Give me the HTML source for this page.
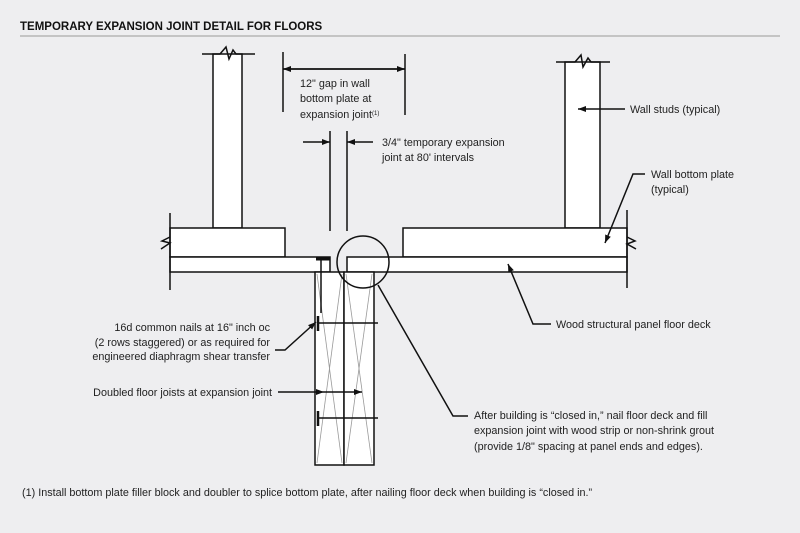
<!DOCTYPE html>
<html><head><meta charset="utf-8"><style>
html,body{margin:0;padding:0;background:#eeeef0;}
svg{display:block;}
text{font-family:"Liberation Sans",sans-serif;font-size:10.8px;fill:#222;}
</style></head><body>
<svg width="800" height="533" viewBox="0 0 800 533" xmlns="http://www.w3.org/2000/svg">
<defs><marker id="a" markerWidth="8" markerHeight="6" refX="8" refY="3" orient="auto" markerUnits="userSpaceOnUse"><path d="M0,0 L8,3 L0,6 z" fill="#111"/></marker></defs>
<text x="20" y="30" style="font-weight:bold;font-size:11.5px;fill:#111">TEMPORARY EXPANSION JOINT DETAIL FOR FLOORS</text>
<line x1="20" y1="36" x2="780" y2="36" stroke="#999" stroke-width="1"/>
<g stroke="#111" stroke-width="1.5" fill="#fff">
<rect x="213" y="54" width="29" height="174"/>
<path d="M202,54 H220 L226,47 L229,59 L233,50 L236,54 H255" fill="none"/>
<rect x="170" y="228" width="115" height="29"/>
<rect x="170" y="257" width="160" height="15"/>
<line x1="170" y1="213" x2="170" y2="290"/>
<path d="M170,237 L162,241 L170,243 L161,249" fill="none"/>
<rect x="565" y="62" width="35" height="166"/>
<path d="M556,62 H575 L581,55 L583,67 L588,58 L591,62 H610" fill="none"/>
<rect x="403" y="228" width="224" height="29"/>
<rect x="347" y="257" width="280" height="15"/>
<line x1="627" y1="210" x2="627" y2="288"/>
<path d="M627,237 L635,241 L627,244 L636,249" fill="none"/>
<rect x="315" y="272" width="29" height="193"/>
<rect x="344" y="272" width="30" height="193"/>
</g>
<g stroke="#999" stroke-width="0.8">
<line x1="317" y1="274" x2="342" y2="463"/><line x1="342" y1="274" x2="317" y2="463"/>
<line x1="346" y1="274" x2="372" y2="463"/><line x1="372" y1="274" x2="346" y2="463"/>
</g>
<g stroke="#111" stroke-width="1.5" fill="none">
<circle cx="363" cy="262" r="26"/>
<line x1="316" y1="259" x2="330" y2="259" stroke-width="3"/>
<line x1="321" y1="260" x2="321" y2="313"/>
<line x1="318" y1="323" x2="378" y2="323"/><line x1="318" y1="316" x2="318" y2="331" stroke-width="2.5"/>
<line x1="318" y1="418" x2="378" y2="418"/><line x1="318" y1="411" x2="318" y2="426" stroke-width="2.5"/>
<line x1="283" y1="52" x2="283" y2="112"/><line x1="405" y1="54" x2="405" y2="115"/>
<line x1="283" y1="69" x2="405" y2="69" marker-end="url(#a)"/>
<line x1="405" y1="69" x2="283" y2="69" marker-end="url(#a)"/>
<line x1="330" y1="131" x2="330" y2="231"/><line x1="347" y1="131" x2="347" y2="231"/>
<line x1="303" y1="142" x2="330" y2="142" marker-end="url(#a)"/>
<line x1="373" y1="142" x2="347" y2="142" marker-end="url(#a)"/>
<line x1="625" y1="109" x2="578" y2="109" marker-end="url(#a)"/>
<polyline points="645,174 633,174 605,243" marker-end="url(#a)"/>
<polyline points="551,324 533,324 508,264" marker-end="url(#a)"/>
<polyline points="468,416 453,416 378,285"/>
<polyline points="275,350 285,350 316,322" marker-end="url(#a)"/>
<line x1="278" y1="392" x2="324" y2="392" marker-end="url(#a)"/>
<line x1="324" y1="392" x2="362" y2="392" marker-end="url(#a)"/>
</g>
<text x="300" y="87">12" gap in wall</text>
<text x="300" y="102">bottom plate at</text>
<text x="300" y="118">expansion joint<tspan style="font-size:6px" dy="-3">(1)</tspan></text>
<text x="382" y="146">3/4" temporary expansion</text>
<text x="382" y="161">joint at 80' intervals</text>
<text x="630" y="113">Wall studs (typical)</text>
<text x="651" y="178">Wall bottom plate</text>
<text x="651" y="193">(typical)</text>
<text x="556" y="328">Wood structural panel floor deck</text>
<text x="474" y="419">After building is “closed in,” nail floor deck and fill</text>
<text x="474" y="434">expansion joint with wood strip or non-shrink grout</text>
<text x="474" y="450">(provide 1/8" spacing at panel ends and edges).</text>
<text x="270" y="331" text-anchor="end">16d common nails at 16" inch oc</text>
<text x="270" y="346" text-anchor="end">(2 rows staggered) or as required for</text>
<text x="270" y="360" text-anchor="end">engineered diaphragm shear transfer</text>
<text x="272" y="396" text-anchor="end">Doubled floor joists at expansion joint</text>
<text x="22" y="496">(1) Install bottom plate filler block and doubler to splice bottom plate, after nailing floor deck when building is “closed in.”</text>
</svg>
</body></html>
